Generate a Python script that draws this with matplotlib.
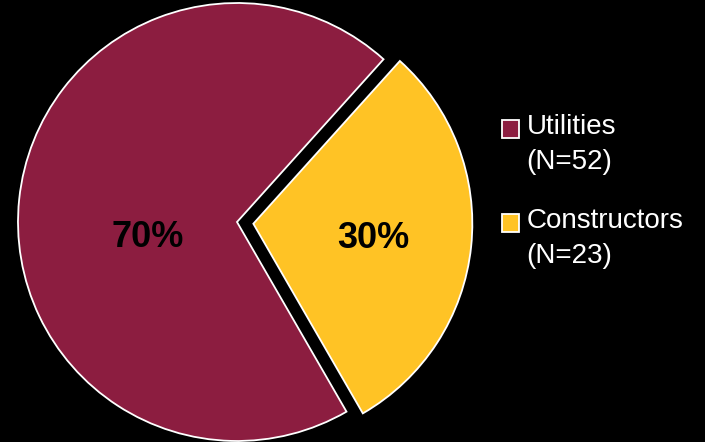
import matplotlib.pyplot as plt

groups = ["Utilities", "Constructors"]
counts = [52, 23]
shares = [70, 30]
colors = ["#8C1D40", "#FFC325"]

plt.rcParams['font.family'] = ['Liberation Sans', 'DejaVu Sans']

fig = plt.figure(figsize=(7.05, 4.42), dpi=100, facecolor="black")
ax = fig.add_axes([0, 0, 1, 1])
ax.set_facecolor("black")

wedges, texts, pcts = ax.pie(
    shares, colors=colors, startangle=48, counterclock=True,
    explode=[0, 0.075], autopct="%d%%", pctdistance=0.55,
    wedgeprops=dict(edgecolor="white", linewidth=1.3),
    textprops=dict(fontsize=26, fontweight="bold", color="black"))
for w in wedges:
    w.set_clip_on(False)
# the big slice label sits a bit lower and nearer the centre
pcts[0].set_position((-0.41, -0.07))
x1, y1 = pcts[1].get_position()
pcts[1].set_position((x1, y1 - 0.01))

# map data units to pixels: centre (237, 220 from bottom), radius 219 px
W, H, r = 705, 442, 219
cx, cy = 237, H - 222
ax.set_aspect("auto")
ax.set_xlim(-cx / r, (W - cx) / r)
ax.set_ylim(-cy / r, (H - cy) / r)
ax.axis("off")

labels = [f"{g}\n(N={n})" for g, n in zip(groups, counts)]
leg = ax.legend(wedges, labels, loc="upper left",
                bbox_to_anchor=(502 / W, 1 - 114 / H), bbox_transform=fig.transFigure,
                frameon=False, fontsize=20, labelcolor="white",
                handlelength=0.6, handleheight=0.6, handletextpad=0.28,
                labelspacing=1.2, borderpad=0, borderaxespad=0)
for t in leg.get_texts():
    t.set_linespacing(1.45)
# square markers sit beside the first line of each label
for p in leg.get_patches():
    p.set_edgecolor("white")
    p.set_linewidth(1.3)
    p.set_y(p.get_y() + 11.5)

fig.savefig("out.png", dpi=100, facecolor="black")
